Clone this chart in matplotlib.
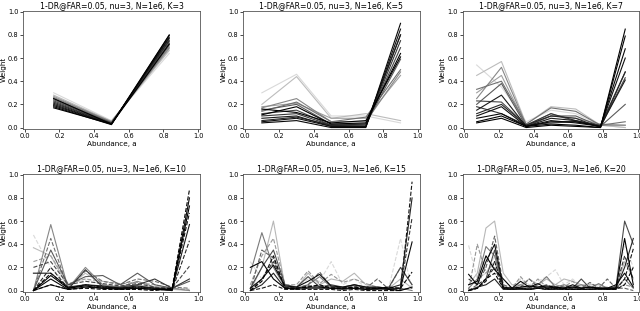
import matplotlib as mpl
mpl.use('Agg')
import matplotlib.pyplot as plt
import numpy as np

# weights, one list per curve, one value per bin
k3_lines = [
    [0.30, 0.06, 0.64], [0.28, 0.055, 0.665], [0.27, 0.05, 0.68],
    [0.26, 0.05, 0.69], [0.25, 0.045, 0.705], [0.24, 0.04, 0.72],
    [0.23, 0.04, 0.73], [0.22, 0.035, 0.745], [0.21, 0.035, 0.755],
    [0.20, 0.03, 0.77], [0.19, 0.03, 0.78], [0.18, 0.025, 0.795],
    [0.25, 0.03, 0.72], [0.17, 0.03, 0.80],
]
k5_lines = [
    [0.30, 0.46, 0.10, 0.10, 0.04],
    [0.20, 0.44, 0.08, 0.12, 0.06],
    [0.18, 0.21, 0.08, 0.08, 0.45],
    [0.17, 0.25, 0.05, 0.05, 0.48],
    [0.14, 0.22, 0.05, 0.09, 0.50],
    [0.15, 0.20, 0.03, 0.03, 0.59],
    [0.12, 0.15, 0.02, 0.02, 0.69],
    [0.10, 0.12, 0.02, 0.01, 0.75],
    [0.06, 0.09, 0.02, 0.03, 0.80],
    [0.08, 0.10, 0.01, 0.01, 0.80],
    [0.05, 0.08, 0.01, 0.01, 0.85],
    [0.04, 0.06, 0.00, 0.00, 0.90],
    [0.16, 0.13, 0.04, 0.06, 0.61],
    [0.11, 0.18, 0.03, 0.04, 0.64],
]
k7_lines = [
    [0.54, 0.35, 0.05, 0.15, 0.12, 0.02, 0.00],
    [0.45, 0.57, 0.03, 0.18, 0.16, 0.02, 0.00],
    [0.30, 0.45, 0.02, 0.10, 0.08, 0.03, 0.02],
    [0.25, 0.52, 0.02, 0.12, 0.05, 0.02, 0.02],
    [0.33, 0.40, 0.03, 0.17, 0.14, 0.02, 0.05],
    [0.20, 0.38, 0.01, 0.10, 0.10, 0.01, 0.20],
    [0.23, 0.22, 0.02, 0.04, 0.05, 0.01, 0.43],
    [0.18, 0.12, 0.02, 0.12, 0.06, 0.02, 0.48],
    [0.12, 0.20, 0.02, 0.10, 0.08, 0.00, 0.48],
    [0.15, 0.28, 0.01, 0.08, 0.06, 0.01, 0.41],
    [0.10, 0.18, 0.01, 0.06, 0.04, 0.01, 0.60],
    [0.08, 0.12, 0.01, 0.05, 0.05, 0.01, 0.68],
    [0.05, 0.10, 0.01, 0.03, 0.02, 0.00, 0.79],
    [0.04, 0.08, 0.00, 0.02, 0.01, 0.00, 0.85],
]
k10_lines = [
    [0.48, 0.20, 0.05, 0.10, 0.05, 0.03, 0.05, 0.02, 0.02, 0.00],
    [0.37, 0.30, 0.03, 0.15, 0.05, 0.02, 0.05, 0.02, 0.01, 0.00],
    [0.25, 0.30, 0.06, 0.10, 0.08, 0.06, 0.07, 0.05, 0.02, 0.01],
    [0.00, 0.57, 0.02, 0.20, 0.05, 0.03, 0.08, 0.03, 0.02, 0.00],
    [0.00, 0.45, 0.02, 0.17, 0.08, 0.05, 0.10, 0.08, 0.03, 0.02],
    [0.00, 0.35, 0.05, 0.12, 0.13, 0.05, 0.15, 0.05, 0.02, 0.08],
    [0.20, 0.25, 0.05, 0.08, 0.06, 0.04, 0.06, 0.03, 0.02, 0.21],
    [0.00, 0.05, 0.01, 0.18, 0.03, 0.03, 0.05, 0.10, 0.02, 0.10],
    [0.00, 0.20, 0.02, 0.05, 0.03, 0.02, 0.03, 0.02, 0.00, 0.43],
    [0.15, 0.15, 0.03, 0.05, 0.04, 0.02, 0.04, 0.02, 0.01, 0.57],
    [0.00, 0.15, 0.02, 0.05, 0.03, 0.02, 0.03, 0.02, 0.01, 0.67],
    [0.00, 0.10, 0.01, 0.03, 0.02, 0.01, 0.02, 0.01, 0.00, 0.80],
    [0.00, 0.05, 0.01, 0.02, 0.01, 0.01, 0.01, 0.00, 0.02, 0.87],
    [0.00, 0.13, 0.02, 0.04, 0.02, 0.02, 0.02, 0.01, 0.01, 0.73],
]
k15_lines = [
    [0.25, 0.10, 0.30, 0.05, 0.03, 0.10, 0.08, 0.25, 0.05, 0.10, 0.03, 0.02, 0.03, 0.45, 0.00],
    [0.00, 0.20, 0.60, 0.03, 0.02, 0.15, 0.05, 0.10, 0.08, 0.15, 0.05, 0.03, 0.02, 0.10, 0.02],
    [0.05, 0.30, 0.45, 0.05, 0.05, 0.17, 0.06, 0.14, 0.07, 0.10, 0.06, 0.03, 0.02, 0.20, 0.05],
    [0.15, 0.50, 0.20, 0.03, 0.02, 0.05, 0.12, 0.03, 0.02, 0.05, 0.02, 0.02, 0.01, 0.02, 0.00],
    [0.00, 0.35, 0.28, 0.02, 0.02, 0.05, 0.16, 0.03, 0.02, 0.04, 0.02, 0.10, 0.01, 0.01, 0.02],
    [0.02, 0.20, 0.35, 0.05, 0.03, 0.12, 0.03, 0.05, 0.03, 0.05, 0.03, 0.02, 0.03, 0.20, 0.05],
    [0.00, 0.10, 0.25, 0.03, 0.02, 0.04, 0.04, 0.03, 0.02, 0.03, 0.02, 0.02, 0.01, 0.02, 0.63],
    [0.00, 0.05, 0.15, 0.02, 0.01, 0.02, 0.02, 0.02, 0.01, 0.02, 0.01, 0.01, 0.02, 0.05, 0.80],
    [0.00, 0.02, 0.05, 0.01, 0.01, 0.01, 0.01, 0.01, 0.00, 0.01, 0.00, 0.00, 0.00, 0.00, 0.94],
    [0.02, 0.10, 0.22, 0.04, 0.03, 0.08, 0.14, 0.04, 0.03, 0.05, 0.03, 0.03, 0.02, 0.02, 0.42],
    [0.00, 0.08, 0.30, 0.02, 0.02, 0.03, 0.05, 0.02, 0.02, 0.03, 0.02, 0.02, 0.03, 0.02, 0.16],
    [0.20, 0.25, 0.10, 0.02, 0.02, 0.03, 0.03, 0.02, 0.02, 0.02, 0.01, 0.02, 0.01, 0.00, 0.03],
]
k20_lines = [
    [0.39, 0.10, 0.15, 0.30, 0.05, 0.03, 0.10, 0.05, 0.08, 0.12, 0.18, 0.05, 0.10, 0.03, 0.06, 0.03, 0.02, 0.02, 0.40, 0.20],
    [0.05, 0.15, 0.54, 0.60, 0.15, 0.05, 0.05, 0.10, 0.05, 0.10, 0.05, 0.10, 0.08, 0.05, 0.05, 0.05, 0.02, 0.03, 0.25, 0.10],
    [0.00, 0.40, 0.15, 0.25, 0.03, 0.02, 0.12, 0.03, 0.10, 0.03, 0.05, 0.03, 0.08, 0.02, 0.04, 0.02, 0.03, 0.02, 0.05, 0.03],
    [0.02, 0.10, 0.38, 0.30, 0.02, 0.02, 0.05, 0.02, 0.05, 0.12, 0.03, 0.05, 0.03, 0.05, 0.02, 0.06, 0.02, 0.02, 0.10, 0.02],
    [0.00, 0.05, 0.20, 0.47, 0.05, 0.02, 0.03, 0.10, 0.03, 0.05, 0.02, 0.04, 0.02, 0.02, 0.07, 0.02, 0.10, 0.02, 0.02, 0.00],
    [0.00, 0.02, 0.10, 0.35, 0.02, 0.01, 0.02, 0.02, 0.02, 0.03, 0.02, 0.02, 0.02, 0.10, 0.02, 0.02, 0.02, 0.03, 0.60, 0.40],
    [0.10, 0.05, 0.10, 0.20, 0.02, 0.01, 0.02, 0.02, 0.03, 0.02, 0.02, 0.02, 0.02, 0.02, 0.02, 0.02, 0.02, 0.02, 0.30, 0.10],
    [0.00, 0.03, 0.05, 0.10, 0.01, 0.01, 0.01, 0.01, 0.02, 0.01, 0.01, 0.01, 0.01, 0.01, 0.01, 0.01, 0.01, 0.02, 0.20, 0.45],
    [0.00, 0.02, 0.08, 0.25, 0.02, 0.01, 0.02, 0.01, 0.02, 0.02, 0.01, 0.02, 0.01, 0.01, 0.01, 0.01, 0.01, 0.01, 0.10, 0.36],
    [0.14, 0.05, 0.25, 0.40, 0.03, 0.02, 0.08, 0.03, 0.06, 0.02, 0.03, 0.02, 0.05, 0.02, 0.03, 0.02, 0.02, 0.05, 0.15, 0.03],
    [0.00, 0.02, 0.10, 0.15, 0.02, 0.01, 0.02, 0.01, 0.02, 0.01, 0.02, 0.01, 0.01, 0.01, 0.01, 0.02, 0.01, 0.01, 0.05, 0.20],
    [0.05, 0.08, 0.30, 0.18, 0.10, 0.02, 0.03, 0.04, 0.03, 0.04, 0.03, 0.02, 0.03, 0.02, 0.03, 0.02, 0.02, 0.02, 0.45, 0.05],
]

panel_K = [3, 5, 7, 10, 15, 20]
panel_lines = [k3_lines, k5_lines, k7_lines, k10_lines, k15_lines, k20_lines]

plt.rcParams['font.family'] = 'DejaVu Sans'
fig, axes = plt.subplots(2, 3, figsize=(6.4, 3.11), dpi=100)
fig.subplots_adjust(left=0.036, right=0.999, top=0.966, bottom=0.062,
                    wspace=0.243, hspace=0.38)

for ax, K, lines in zip(axes.flat, panel_K, panel_lines):
    x = (np.arange(K) + 0.5) / K
    n = len(lines)
    dashed = K >= 10
    for i, w in enumerate(lines):
        # light gray first, mostly black after
        t = i / max(n - 1, 1)
        g = 0.85 * (1 - t) ** 1.8
        ls = '--' if (dashed and i % 2 == 0) else '-'
        ax.plot(x, w, color=(g, g, g), linewidth=0.8, linestyle=ls)
    ax.set_xlim(-0.01, 1.01)
    ax.set_ylim(-0.01, 1.01)
    ax.set_xticks(np.arange(0, 1.01, 0.2))
    ax.set_yticks(np.arange(0, 1.01, 0.2))
    ax.tick_params(labelsize=4.8, length=2, width=0.5, pad=1.2)
    for s in ax.spines.values():
        s.set_linewidth(0.6)
        s.set_color('#555555')
    ax.set_xlabel('Abundance, a', fontsize=5.2, labelpad=1)
    ax.set_ylabel('Weight', fontsize=5.2, labelpad=1)
    ax.set_title('1-DR@FAR=0.05, nu=3, N=1e6, K=%d' % K, fontsize=5.6, pad=2)

fig.savefig('out.png', dpi=100)
